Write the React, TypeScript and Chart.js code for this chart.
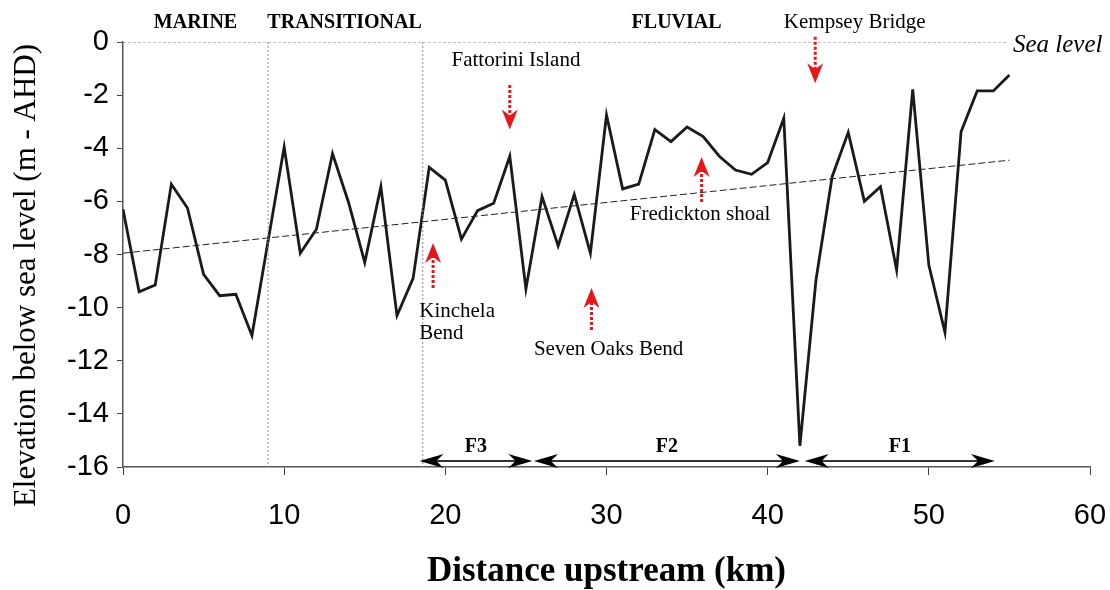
import React, { useEffect, useRef } from "react";
import { Chart, registerables } from "chart.js";

Chart.register(...registerables);

const distanceKm = [
  0, 1, 2, 3, 4, 5, 6, 7, 8, 9, 10, 11, 12, 13, 14, 15, 16, 17, 18, 19, 20, 21, 22, 23, 24, 25, 26, 27,
  28, 29, 30, 31, 32, 33, 34, 35, 36, 37, 38, 39, 40, 41, 42, 43, 44, 45, 46, 47, 48, 49, 50, 51, 52, 53,
  54, 55,
];
const elevationM = [
  -6.3, -9.4, -9.15, -5.35, -6.25, -8.75, -9.55, -9.5, -11.05, -7.5, -3.95, -7.95, -7.05, -4.2, -6.05,
  -8.3, -5.45, -10.3, -8.9, -4.72, -5.2, -7.42, -6.35, -6.07, -4.3, -9.3, -5.82, -7.68, -5.74, -7.95,
  -2.75, -5.53, -5.35, -3.3, -3.75, -3.2, -3.56, -4.3, -4.82, -4.98, -4.54, -2.87, -15.2, -8.95, -5.07,
  -3.4, -6.0, -5.45, -8.58, -1.78, -8.4, -10.93, -3.38, -1.84, -1.84, -1.24,
];
const trendKm = [0, 55];
const trendM = [-7.95, -4.45];
const seaLevelKm = [0, 54.8];
const seaLevelM = [0, 0];
const zoneBoundaryKm = [9, 18.6];

const zoneLabels = ["MARINE", "TRANSITIONAL", "FLUVIAL"];
const zoneLabelKm = [4.5, 13.75, 34.35];
const zoneLabelM = 0.73;

const placeLabels = ["Fattorini Island", "Seven Oaks Bend", "Kempsey Bridge"];
const placeLabelKm = [24.38, 30.13, 45.4];
const placeLabelM = [-0.68, -11.56, 0.73];

// arrows: km, tail elevation, tip elevation
const arrowKm = [24.0, 42.95, 19.24, 29.07, 35.9];
const arrowTailM = [-1.62, 0.2, -9.26, -10.84, -6.02];
const arrowTipM = [-3.29, -1.55, -7.57, -9.26, -4.33];

const reachLabels = ["F3", "F2", "F1"];
const reachStartKm = [18.4, 25.5, 42.3];
const reachEndKm = [25.4, 42.0, 54.1];
const reachArrowM = -15.77;
const reachLabelM = -15.25;

const yTitle = "Elevation below sea level (m - AHD)";

export default function App() {
  const canvasRef = useRef<HTMLCanvasElement | null>(null);

  useEffect(() => {
    document.body.style.margin = "0";
    const canvas = canvasRef.current;
    if (!canvas) return;

    const serif = "'Liberation Serif', 'Times New Roman', serif";
    const sans = "'Liberation Sans', Arial, sans-serif";

    const drawHead = (ctx: CanvasRenderingContext2D, x: number, y: number, angle: number, len: number, half: number, color: string) => {
      ctx.save();
      ctx.translate(x, y);
      ctx.rotate(angle);
      ctx.fillStyle = color;
      ctx.beginPath();
      ctx.moveTo(0, 0);
      ctx.lineTo(-len, -half);
      ctx.lineTo(-len * 0.7, 0);
      ctx.lineTo(-len, half);
      ctx.closePath();
      ctx.fill();
      ctx.restore();
    };

    const annotations = {
      id: "annotations",
      afterDatasetsDraw(chart: any) {
        const ctx = chart.ctx as CanvasRenderingContext2D;
        const xs = chart.scales.x;
        const ys = chart.scales.y;
        const px = (v: number) => xs.getPixelForValue(v);
        const py = (v: number) => ys.getPixelForValue(v);
        ctx.save();
        ctx.textAlign = "center";
        ctx.textBaseline = "middle";
        ctx.fillStyle = "#000";

        ctx.font = `bold 20px ${serif}`;
        zoneLabels.forEach((t, i) => ctx.fillText(t, px(zoneLabelKm[i]), py(zoneLabelM)));

        ctx.font = `21px ${serif}`;
        placeLabels.forEach((t, i) => ctx.fillText(t, px(placeLabelKm[i]), py(placeLabelM[i])));
        ctx.textAlign = "left";
        ctx.fillText("Fredickton shoal", px(31.45), py(-6.51));
        ctx.fillText("Kinchela", px(18.38), py(-10.15));
        ctx.fillText("Bend", px(18.38), py(-10.99));

        ctx.font = `italic 25px ${serif}`;
        ctx.fillText("Sea level", px(55.22), py(-0.11));

        // red dashed arrows
        arrowKm.forEach((k, i) => {
          const x = px(k);
          const y0 = py(arrowTailM[i]);
          const y1 = py(arrowTipM[i]);
          const dir = y1 > y0 ? 1 : -1;
          ctx.strokeStyle = "#e8161b";
          ctx.lineWidth = 3;
          ctx.setLineDash([3, 2]);
          ctx.beginPath();
          ctx.moveTo(x, y0);
          ctx.lineTo(x, y1 - dir * 14);
          ctx.stroke();
          ctx.setLineDash([]);
          drawHead(ctx, x, y1, dir > 0 ? Math.PI / 2 : -Math.PI / 2, 20, 8, "#e8161b");
        });

        // reach arrows
        const ya = py(reachArrowM);
        reachLabels.forEach((t, i) => {
          const x0 = px(reachStartKm[i]);
          const x1 = px(reachEndKm[i]);
          ctx.strokeStyle = "#333";
          ctx.lineWidth = 2;
          ctx.beginPath();
          ctx.moveTo(x0 + 10, ya);
          ctx.lineTo(x1 - 10, ya);
          ctx.stroke();
          drawHead(ctx, x0, ya, Math.PI, 24, 7, "#000");
          drawHead(ctx, x1, ya, 0, 24, 7, "#000");
          ctx.font = `bold 20px ${serif}`;
          ctx.textAlign = "center";
          ctx.fillStyle = "#000";
          ctx.fillText(t, (x0 + x1) / 2, py(reachLabelM));
        });

        // y-axis title (offset below the axis centre, as in the original)
        ctx.save();
        ctx.translate(27, (ys.top + ys.bottom) / 2 + 21);
        ctx.rotate(-Math.PI / 2);
        ctx.font = `31px ${serif}`;
        ctx.textAlign = "center";
        ctx.textBaseline = "middle";
        ctx.fillText(yTitle, 0, 0);
        ctx.restore();

        ctx.restore();
      },
    };

    const chart = new Chart(canvas, {
      type: "line",
      data: {
        datasets: [
          {
            label: "Sea level",
            data: seaLevelKm.map((x, i) => ({ x, y: seaLevelM[i] })),
            borderColor: "#8a8a8a",
            borderWidth: 1,
            borderDash: [3, 2],
            pointRadius: 0,
          },
          ...zoneBoundaryKm.map((k) => ({
            label: "Zone boundary",
            data: [
              { x: k, y: 0 },
              { x: k, y: -16 },
            ],
            borderColor: "#8a8a8a",
            borderWidth: 1,
            borderDash: [2, 2],
            pointRadius: 0,
          })),
          {
            label: "Trend",
            data: trendKm.map((x, i) => ({ x, y: trendM[i] })),
            borderColor: "#222",
            borderWidth: 1,
            borderDash: [7, 3],
            pointRadius: 0,
          },
          {
            label: "Thalweg elevation",
            data: distanceKm.map((x, i) => ({ x, y: elevationM[i] })),
            borderColor: "#1a1a1a",
            borderWidth: 2.8,
            pointRadius: 0,
            tension: 0,
          },
        ],
      },
      options: {
        animation: false,
        responsive: false,
        maintainAspectRatio: false,
        layout: { padding: { top: 42, right: 0, left: 0, bottom: 0 } },
        plugins: { legend: { display: false }, tooltip: { enabled: false } },
        scales: {
          x: {
            type: "linear",
            min: 0,
            max: 60,
            ticks: { stepSize: 10, color: "#000", font: { family: sans, size: 29 }, padding: 24, maxRotation: 0 },
            grid: { display: true, drawOnChartArea: false, drawTicks: true, tickLength: 8, color: "#444" },
            border: { display: true, color: "#555", width: 1.5 },
            title: {
              display: true,
              text: "Distance upstream (km)",
              color: "#000",
              font: { family: serif, size: 35, weight: "bold", lineHeight: 1 },
              padding: { top: 0, bottom: 1 },
            },
            afterFit: (s: any) => {
              s.height = 123;
              s.paddingRight = 20;
              s.paddingLeft = 0;
            },
          },
          y: {
            type: "linear",
            min: -16,
            max: 0,
            ticks: { stepSize: 2, color: "#000", font: { family: sans, size: 29 }, padding: 8 },
            grid: { display: true, drawOnChartArea: false, drawTicks: true, tickLength: 6, color: "#444" },
            border: { display: true, color: "#555", width: 1.5 },
            afterFit: (s: any) => {
              s.width = 123;
            },
          },
        },
      },
      plugins: [annotations],
    });
    return () => chart.destroy();
  }, []);

  return (
    <div style={{ width: 1110, height: 590 }}>
      <canvas ref={canvasRef} width={1110} height={590} style={{ display: "block" }} />
    </div>
  );
}
